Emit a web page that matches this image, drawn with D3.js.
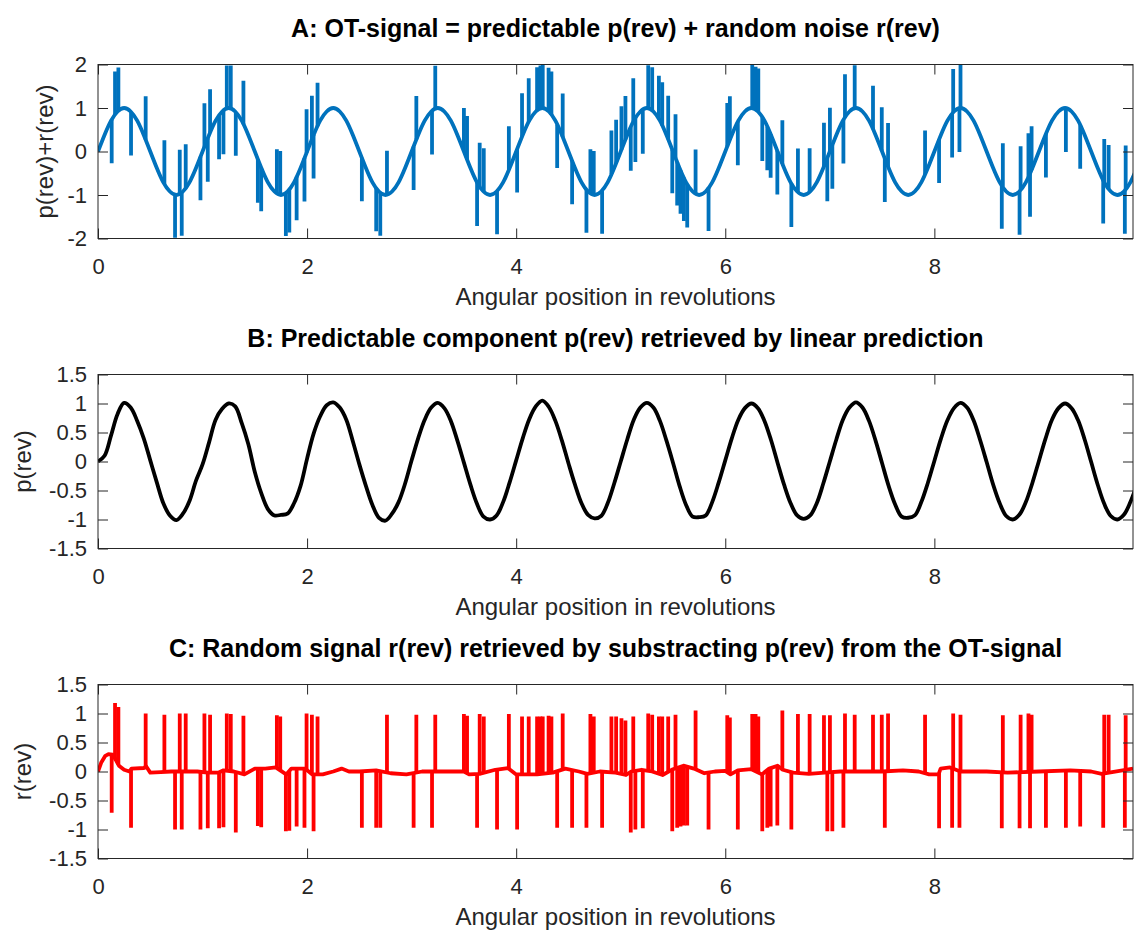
<!DOCTYPE html>
<html>
<head>
<meta charset="utf-8">
<script src="https://cdn.jsdelivr.net/npm/d3@7"></script>
<style>
  html, body { margin: 0; padding: 0; background: #fff; }
  svg { display: block; font-family: "Liberation Sans", Arial, Helvetica, sans-serif; }
</style>
</head>
<body>
<svg id="chart" width="1134" height="931"></svg>
<script>
// ---------- data ----------
const revMax = 9.9;

const xTicks = [0, 2, 4, 6, 8];
const xTickLabels = ["0", "2", "4", "6", "8"];
const yTicksA = [-2, -1, 0, 1, 2];
const yTickLabelsA = ["-2", "-1", "0", "1", "2"];
const yTicksBC = [-1.5, -1, -0.5, 0, 0.5, 1, 1.5];
const yTickLabelsBC = ["-1.5", "-1", "-0.5", "0", "0.5", "1", "1.5"];

// sample positions (revolutions) for the periodic components, 16 per revolution
const sampleRev = d3.range(160).map(i => i / 16);

// predictable part p(rev) of the OT-signal
const pTrue = [
  0, 0.38, 0.71, 0.92, 1, 0.92, 0.71, 0.38, 0, -0.38, -0.71, -0.92, -1, -0.92, -0.71, -0.38,
  0, 0.38, 0.71, 0.92, 1, 0.92, 0.71, 0.38, 0, -0.38, -0.71, -0.92, -1, -0.92, -0.71, -0.38,
  0, 0.38, 0.71, 0.92, 1, 0.92, 0.71, 0.38, 0, -0.38, -0.71, -0.92, -1, -0.92, -0.71, -0.38,
  0, 0.38, 0.71, 0.92, 1, 0.92, 0.71, 0.38, 0, -0.38, -0.71, -0.92, -1, -0.92, -0.71, -0.38,
  0, 0.38, 0.71, 0.92, 1, 0.92, 0.71, 0.38, 0, -0.38, -0.71, -0.92, -1, -0.92, -0.71, -0.38,
  0, 0.38, 0.71, 0.92, 1, 0.92, 0.71, 0.38, 0, -0.38, -0.71, -0.92, -1, -0.92, -0.71, -0.38,
  0, 0.38, 0.71, 0.92, 1, 0.92, 0.71, 0.38, 0, -0.38, -0.71, -0.92, -1, -0.92, -0.71, -0.38,
  0, 0.38, 0.71, 0.92, 1, 0.92, 0.71, 0.38, 0, -0.38, -0.71, -0.92, -1, -0.92, -0.71, -0.38,
  0, 0.38, 0.71, 0.92, 1, 0.92, 0.71, 0.38, 0, -0.38, -0.71, -0.92, -1, -0.92, -0.71, -0.38,
  0, 0.38, 0.71, 0.92, 1, 0.92, 0.71, 0.38, 0, -0.38, -0.71, -0.92, -1, -0.92, -0.71, -0.38
];

// p(rev) as retrieved by linear prediction
const pPredicted = [
  0.00, 0.10, 0.45, 0.82, 1.01, 0.93, 0.70, 0.40, 0.02, -0.36, -0.72, -0.93, -1.01, -0.90, -0.68, -0.33,
  -0.05, 0.33, 0.72, 0.91, 1.00, 0.95, 0.66, 0.30, -0.18, -0.55, -0.82, -0.93, -0.92, -0.90, -0.72, -0.42,
  0.05, 0.48, 0.78, 0.97, 1.02, 0.93, 0.72, 0.35, -0.05, -0.42, -0.75, -0.97, -1.02, -0.90, -0.70, -0.38,
  0.02, 0.40, 0.72, 0.93, 1.01, 0.92, 0.70, 0.36, -0.02, -0.40, -0.73, -0.95, -1.00, -0.93, -0.70, -0.36,
  0.02, 0.40, 0.73, 0.95, 1.05, 0.94, 0.70, 0.36, -0.03, -0.40, -0.72, -0.92, -0.98, -0.94, -0.72, -0.38,
  0.00, 0.38, 0.72, 0.93, 1.01, 0.93, 0.70, 0.36, -0.02, -0.42, -0.75, -0.95, -0.96, -0.93, -0.70, -0.36,
  0.02, 0.40, 0.72, 0.92, 1.00, 0.92, 0.70, 0.37, -0.02, -0.40, -0.72, -0.93, -0.99, -0.93, -0.72, -0.38,
  0.00, 0.38, 0.72, 0.93, 1.02, 0.93, 0.70, 0.36, -0.03, -0.42, -0.74, -0.95, -0.97, -0.93, -0.70, -0.37,
  0.01, 0.39, 0.71, 0.92, 1.01, 0.93, 0.71, 0.37, -0.01, -0.40, -0.72, -0.94, -1.00, -0.92, -0.70, -0.37,
  0.01, 0.39, 0.72, 0.92, 1.00, 0.92, 0.71, 0.38, -0.01, -0.40, -0.73, -0.94, -1.00, -0.92, -0.70, -0.40
];

// impulsive random noise r(rev): positions, true signs, and retrieved peak values
const noiseRev = [
  0.131, 0.163, 0.195, 0.316, 0.456, 0.635, 0.737, 0.782, 0.801, 0.839,
  0.980, 1.018, 1.050, 1.072, 1.158, 1.200, 1.232, 1.270, 1.318, 1.391,
  1.529, 1.561, 1.711, 1.743, 1.797, 1.830, 1.900, 1.975, 1.995, 2.046,
  2.062, 2.100, 2.524, 2.661, 2.700, 2.764, 3.019, 3.045, 3.195, 3.226,
  3.500, 3.530, 3.626, 3.651, 3.690, 3.817, 3.930, 4.009, 4.056, 4.120,
  4.200, 4.232, 4.254, 4.310, 4.337, 4.392, 4.445, 4.535, 4.672, 4.710,
  4.742, 4.822, 4.911, 4.956, 5.007, 5.045, 5.096, 5.120, 5.140, 5.211,
  5.263, 5.301, 5.365, 5.397, 5.454, 5.493, 5.524, 5.540, 5.572, 5.604,
  5.636, 5.716, 5.840, 6.019, 6.044, 6.120, 6.258, 6.290, 6.316, 6.354,
  6.402, 6.434, 6.498, 6.546, 6.632, 6.695, 6.807, 6.944, 6.976, 7.001,
  7.024, 7.130, 7.145, 7.238, 7.413, 7.497, 7.526, 7.557, 7.911, 8.045,
  8.170, 8.180, 8.240, 8.250, 8.645, 8.655, 8.815, 8.825, 8.900, 8.915,
  8.930, 9.067, 9.258, 9.395, 9.615, 9.625, 9.667, 9.822, 9.830
];
const noiseSign = [
  -1, 1, 1, -1, 1, 1, -1, 1, -1, 1,
  -1, 1, -1, 1, -1, -1, 1, 1, -1, 1,
  -1, -1, 1, 1, -1, -1, -1, -1, 1, 1,
  -1, 1, -1, -1, -1, 1, -1, 1, -1, 1,
  1, 1, -1, 1, 1, -1, 1, -1, 1, 1,
  1, 1, 1, 1, 1, -1, 1, -1, -1, 1,
  1, -1, 1, 1, 1, 1, -1, 1, -1, -1,
  1, 1, 1, 1, 1, -1, 1, -1, -1, -1,
  -1, 1, -1, 1, 1, -1, 1, 1, 1, -1,
  -1, -1, -1, 1, -1, 1, 1, 1, -1, 1,
  -1, -1, 1, 1, 1, 1, -1, 1, 1, -1,
  -1, 1, -1, 1, -1, 1, -1, 1, 1, -1,
  1, -1, -1, -1, -1, 1, 1, -1, 1
];
const residualPeak = [
  -0.71, 1.18, 1.11, -0.97, 1.00, 0.98, -1.00, 1.00, -1.00, 1.00,
  -1.00, 1.00, -0.98, 0.98, -0.98, -0.96, 1.00, 0.99, -1.05, 0.96,
  -0.94, -0.96, 0.97, 0.95, -1.03, -1.02, -0.95, -0.97, 1.00, 0.98,
  -1.03, 0.95, -0.97, -0.97, -0.97, 0.98, -0.97, 0.98, -0.97, 0.98,
  0.99, 0.96, -0.97, 0.99, 0.95, -1.00, 0.99, -1.00, 0.95, 0.95,
  0.95, 0.95, 0.95, 0.96, 0.95, -0.97, 1.00, -0.97, -0.97, 0.99,
  0.95, -0.97, 0.95, 0.95, 0.92, 0.88, -1.05, 0.95, -1.00, -0.98,
  1.00, 0.98, 0.95, 0.95, 0.95, -1.03, 0.98, -0.97, -0.95, -0.93,
  -0.93, 1.05, -1.00, 0.97, 0.93, -1.00, 0.99, 0.99, 0.95, -1.03,
  -0.97, -0.95, -0.93, 1.05, -1.00, 0.99, 0.99, 0.97, -1.03, 0.97,
  -1.03, -0.97, 1.00, 0.98, 0.98, 0.98, -0.97, 1.00, 0.98, -0.98,
  -0.97, 1.00, -0.97, 0.98, -0.98, 0.97, -0.98, 0.98, 1.00, -0.98,
  0.98, -0.97, -0.97, -0.95, -0.97, 0.98, 0.98, -0.97, 0.97
];

// slowly varying floor of the retrieved random signal
const residualFloorRev = [
  0, 0.03, 0.07, 0.10, 0.14, 0.17, 0.20, 0.25, 0.30, 0.32, 0.44, 0.46, 0.50, 0.60, 0.70,
  0.80, 0.95, 1.05, 1.15, 1.20, 1.30, 1.40, 1.50, 1.60, 1.70, 1.80, 1.85, 1.98, 2.05, 2.15,
  2.25, 2.33, 2.40, 2.50, 2.66, 2.80, 2.95, 3.10, 3.30, 3.50, 3.55, 3.65, 3.80, 3.92, 4.00,
  4.20, 4.35, 4.47, 4.60, 4.68, 4.80, 4.95, 5.05, 5.10, 5.20, 5.30, 5.40, 5.50, 5.60, 5.70,
  5.80, 5.90, 6.00, 6.05, 6.12, 6.25, 6.35, 6.42, 6.50, 6.55, 6.65, 6.80, 6.95, 7.10, 7.30,
  7.50, 7.70, 7.85, 7.95, 8.04, 8.06, 8.15, 8.25, 8.50, 8.70, 9.00, 9.30, 9.50, 9.60, 9.70, 9.90
];
const residualFloor = [
  0, 0.15, 0.27, 0.30, 0.29, 0.20, 0.10, 0.03, 0.00, 0.05, 0.06, 0.09, -0.02, -0.01, 0.00,
  0.00, 0.00, -0.02, -0.02, 0.02, 0.00, -0.05, 0.05, 0.05, 0.07, -0.05, 0.05, 0.05, -0.05, -0.05,
  0.00, 0.05, 0.00, 0.00, 0.02, -0.03, -0.05, 0.00, 0.00, 0.00, -0.05, -0.04, 0.03, 0.06, -0.05,
  -0.05, -0.02, 0.05, 0.00, -0.04, 0.00, -0.02, -0.06, 0.00, 0.03, 0.00, -0.06, 0.04, 0.10, 0.05,
  -0.03, 0.00, 0.01, -0.05, 0.02, 0.04, -0.05, 0.05, 0.10, 0.03, -0.02, -0.04, -0.02, 0.00, 0.00,
  0.00, 0.02, 0.00, -0.05, -0.05, 0.05, 0.07, 0.00, 0.00, -0.02, 0.00, 0.02, 0.00, -0.04, -0.01, 0.05
];

// ---------- layout ----------
const W = 1134, H = 931;
const left = 98, right = 1133;
const plotH = 174;
const panels = [
  { id: "a", top: 64.5, domain: [-2, 2], ticks: yTicksA, labels: yTickLabelsA,
    title: "A: OT-signal = predictable p(rev) + random noise r(rev)", ylabel: "p(rev)+r(rev)", ylabelX: 53 },
  { id: "b", top: 374.5, domain: [-1.5, 1.5], ticks: yTicksBC, labels: yTickLabelsBC,
    title: "B: Predictable component p(rev) retrieved by linear prediction", ylabel: "p(rev)", ylabelX: 31 },
  { id: "c", top: 684.5, domain: [-1.5, 1.5], ticks: yTicksBC, labels: yTickLabelsBC,
    title: "C: Random signal r(rev) retrieved by substracting p(rev) from the OT-signal", ylabel: "r(rev)", ylabelX: 31 }
];

const axisColor = "#262626";
const svg = d3.select("#chart");
svg.append("rect").attr("width", W).attr("height", H).attr("fill", "#fff");

const x = d3.scaleLinear().domain([0, revMax]).range([left, right]);
const defs = svg.append("defs");

panels.forEach(p => {
  p.y = d3.scaleLinear().domain(p.domain).range([p.top + plotH, p.top]);
  defs.append("clipPath").attr("id", "clip-" + p.id)
    .append("rect").attr("x", left).attr("y", p.top).attr("width", right - left).attr("height", plotH);
  p.g = svg.append("g");
  p.plot = p.g.append("g").attr("clip-path", `url(#clip-${p.id})`);
});

// ---------- panel A: p(rev) + r(rev) ----------
{
  const P = panels[0];
  const pAt = d3.scaleLinear().domain(sampleRev).range(pTrue);
  const line = d3.line().x(d => x(d[0])).y(d => P.y(d[1])).curve(d3.curveNatural);
  const color = "#0072BD";
  P.plot.append("path")
    .datum(sampleRev.map((r, i) => [r, pTrue[i]]))
    .attr("d", line).attr("fill", "none").attr("stroke", color).attr("stroke-width", 3.8);
  P.plot.selectAll("line.spike").data(noiseRev).join("line")
    .attr("class", "spike")
    .attr("x1", d => x(d)).attr("x2", d => x(d))
    .attr("y1", d => P.y(pAt(d)))
    .attr("y2", (d, i) => P.y(pAt(d) + noiseSign[i]))
    .attr("stroke", color).attr("stroke-width", 3.8);
}

// ---------- panel B: predicted component ----------
{
  const P = panels[1];
  const line = d3.line().x(d => x(d[0])).y(d => P.y(d[1])).curve(d3.curveCatmullRom);
  P.plot.append("path")
    .datum(sampleRev.map((r, i) => [r, pPredicted[i]]))
    .attr("d", line).attr("fill", "none").attr("stroke", "#000").attr("stroke-width", 3.8)
    .attr("stroke-linejoin", "round");
}

// ---------- panel C: retrieved random signal ----------
{
  const P = panels[2];
  const floorAt = d3.scaleLinear().domain(residualFloorRev).range(residualFloor);
  const line = d3.line().x(d => x(d[0])).y(d => P.y(d[1]));
  const color = "#FF0000";
  P.plot.append("path")
    .datum(residualFloorRev.map((r, i) => [r, residualFloor[i]]))
    .attr("d", line).attr("fill", "none").attr("stroke", color).attr("stroke-width", 3.8)
    .attr("stroke-linejoin", "round");
  P.plot.selectAll("line.spike").data(noiseRev).join("line")
    .attr("class", "spike")
    .attr("x1", d => x(d)).attr("x2", d => x(d))
    .attr("y1", d => P.y(floorAt(d)))
    .attr("y2", (d, i) => P.y(residualPeak[i]))
    .attr("stroke", color).attr("stroke-width", 3.8);
}

// ---------- axes, labels, titles ----------
panels.forEach(P => {
  const g = P.g;
  const bottom = P.top + plotH;
  const styleAxis = sel => {
    sel.select(".domain").remove();
    sel.selectAll(".tick line").attr("stroke", axisColor).attr("stroke-width", 1);
    sel.selectAll(".tick text").attr("fill", axisColor).attr("font-size", 22)
      .attr("font-family", "'Liberation Sans', Arial, Helvetica, sans-serif");
  };
  g.append("g").attr("transform", `translate(0,${bottom})`)
    .call(d3.axisBottom(x).tickValues(xTicks).tickFormat((d, i) => xTickLabels[i])
      .tickSizeInner(-10).tickSizeOuter(0).tickPadding(20))
    .call(styleAxis);
  g.append("g").attr("transform", `translate(0,${P.top})`)
    .call(d3.axisTop(x).tickValues(xTicks).tickFormat("").tickSizeInner(-10).tickSizeOuter(0))
    .call(styleAxis);
  g.append("g").attr("transform", `translate(${left},0)`)
    .call(d3.axisLeft(P.y).tickValues(P.ticks).tickFormat((d, i) => P.labels[i])
      .tickSizeInner(-10).tickSizeOuter(0).tickPadding(11))
    .call(styleAxis);
  g.append("g").attr("transform", `translate(${right},0)`)
    .call(d3.axisRight(P.y).tickValues(P.ticks).tickFormat("").tickSizeInner(-10).tickSizeOuter(0))
    .call(styleAxis);
  g.append("rect").attr("x", left).attr("y", P.top).attr("width", right - left).attr("height", plotH)
    .attr("fill", "none").attr("stroke", axisColor).attr("stroke-width", 1);

  g.append("text")
    .attr("x", (left + right) / 2).attr("y", bottom + 66)
    .attr("text-anchor", "middle").attr("font-size", 24).attr("fill", axisColor)
    .text("Angular position in revolutions");
  g.append("text")
    .attr("transform", `translate(${P.ylabelX},${P.top + plotH / 2}) rotate(-90)`)
    .attr("text-anchor", "middle").attr("font-size", 24).attr("fill", axisColor)
    .text(P.ylabel);
  g.append("text")
    .attr("x", (left + right) / 2).attr("y", P.top - 28)
    .attr("text-anchor", "middle").attr("font-size", 25).attr("font-weight", "bold").attr("fill", "#000")
    .text(P.title);
});
</script>
</body>
</html>
